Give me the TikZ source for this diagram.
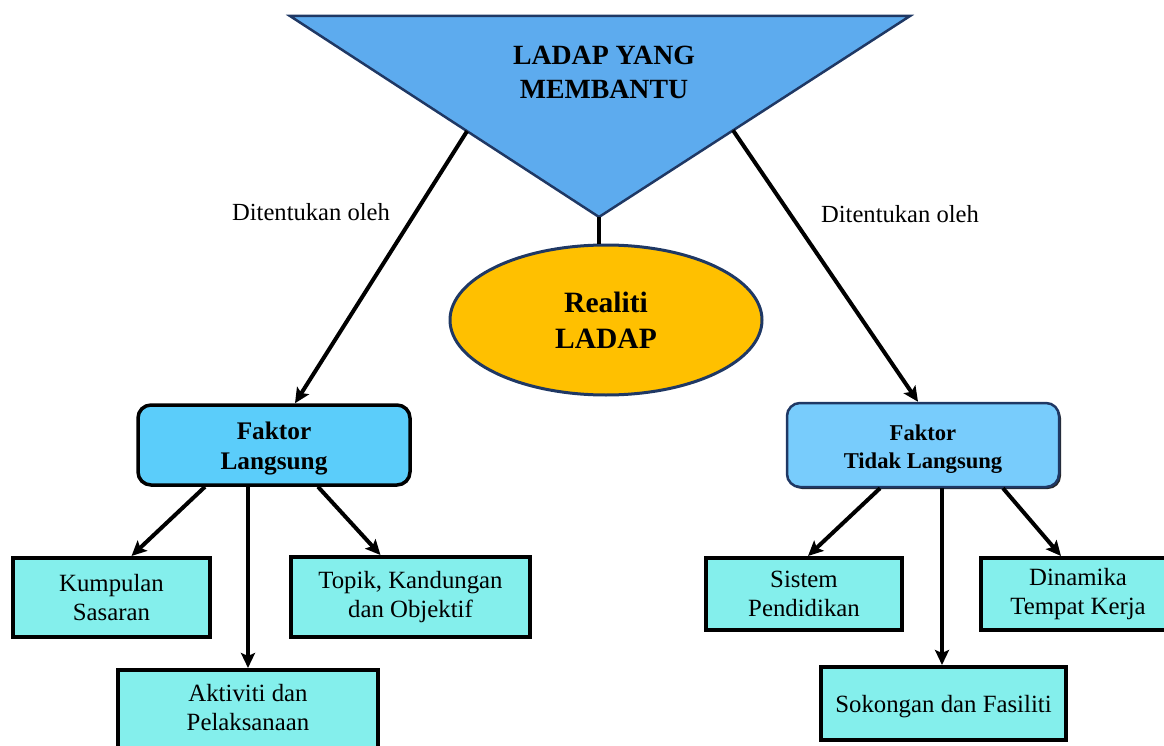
\documentclass[tikz,border=0pt]{standalone}
\usepackage{fontspec}
\setmainfont{Liberation Serif}
\usetikzlibrary{arrows.meta,shapes.geometric,calc,shadows}
\definecolor{tri}{HTML}{5DABEE}
\definecolor{navy}{HTML}{1F3864}
\definecolor{gold}{HTML}{FFC000}
\definecolor{flblue}{HTML}{5BCDFA}
\definecolor{ftblue}{HTML}{78CCFC}
\definecolor{childc}{HTML}{84EFEC}
\tikzset{
  arr/.style={line width=4pt, draw=black, -{Stealth[length=15pt,width=14pt,inset=3pt]}},
  plainline/.style={line width=4pt, draw=black},
  childbox/.style={draw=black, line width=4pt, fill=childc, align=center,
    font=\fontsize{24.8}{29}\selectfont, inner sep=0pt},
  childtext/.style={align=center, font=\fontsize{24.8}{29}\selectfont, inner sep=0pt},
  factorbox/.style={rounded corners=13pt, align=center, inner sep=0pt},
  lbl/.style={font=\fontsize{24.6}{28}\selectfont}
}
\begin{document}
\begin{tikzpicture}[x=1pt,y=-1pt]
\useasboundingbox (0,0) rectangle (1164,746);
% triangle
\coordinate (tl) at (290,16);
\coordinate (tr) at (910,16);
\coordinate (tb) at (599,217);
\draw[draw=navy, line width=2.5pt, fill=tri, line join=miter] (tl) -- (tr) -- (tb) -- cycle;
\node[align=center, font=\bfseries\fontsize{27.8}{34}\selectfont] (title) at (604,72) {LADAP YANG\\MEMBANTU};
% ellipse
\node[ellipse, draw=navy, line width=3pt, fill=gold, minimum width=312, minimum height=150,
  align=center, font=\bfseries\fontsize{29.5}{36}\selectfont, inner sep=0pt] (real) at (606,320) {Realiti\\LADAP};
\draw[plainline] (tb) -- (tb |- real.north);
% factor boxes
\node[factorbox, draw=black, line width=3.5pt, fill=flblue, minimum width=272, minimum height=80] (fl) at (274,445) {};
\node[align=center, inner sep=0pt, font=\bfseries\fontsize{25.3}{30}\selectfont] (flt) at ($(fl.center)+(0,4)$) {Faktor\\Langsung};
\node[factorbox, draw=navy, line width=2.5pt, fill=ftblue, minimum width=272, minimum height=84,
  drop shadow={shadow xshift=2pt, shadow yshift=-2pt, fill=black, opacity=0.85}] (ft) at (923,445) {};
\node[align=center, inner sep=0pt, font=\bfseries\fontsize{22.6}{28}\selectfont] (ftt) at ($(ft.center)+(0,4)$) {Faktor\\Tidak Langsung};
% labels
\node[lbl] (dl) at (311,212) {Ditentukan oleh};
\node[lbl] (dr) at (900,214) {Ditentukan oleh};
% connectors from triangle
\coordinate (tleft) at ($(tl)!0.573!(tb)$);
\coordinate (tright) at ($(tr)!0.569!(tb)$);
\draw[arr] (tleft) -- ([xshift=21pt]fl.north);
\draw[arr] (tright) -- ([xshift=-5pt]ft.north);
% left children
\node[childbox, minimum width=197, minimum height=79] (kump) at (111.5,597.5) {Kumpulan\\Sasaran};
\node[childbox, minimum width=239, minimum height=80] (topik) at (410.5,597) {Topik, Kandungan\\dan Objektif};
\node[childbox, minimum width=260, minimum height=84] (akt) at (248,712) {};
\node[childtext] (aktt) at (248,708) {Aktiviti dan\\Pelaksanaan};
\draw[arr] ([xshift=-69pt]fl.south) -- ([xshift=20pt]kump.north);
\draw[arr] (fl.south -| akt.north) -- (akt.north);
\draw[arr] ([xshift=44pt]fl.south) -- ([xshift=-30pt]topik.north);
% right children
\node[childbox, minimum width=196, minimum height=72] (sis) at (804,594) {Sistem\\Pendidikan};
\node[childbox, minimum width=194, minimum height=72] (dina) at (1078,594) {Dinamika\\Tempat Kerja};
\node[childbox, minimum width=245, minimum height=73] (sok) at (943.5,703.5) {};
\node[childtext] (sokt) at (943.5,706.5) {Sokongan dan Fasiliti};
\draw[arr] ([xshift=-43pt]ft.south) -- ([xshift=4pt]sis.north);
\draw[arr] (ft.south -| 942,0) -- (sok.north -| 942,0);
\draw[arr] ([xshift=80pt]ft.south) -- ([xshift=-17pt]dina.north);
\end{tikzpicture}
\end{document}
